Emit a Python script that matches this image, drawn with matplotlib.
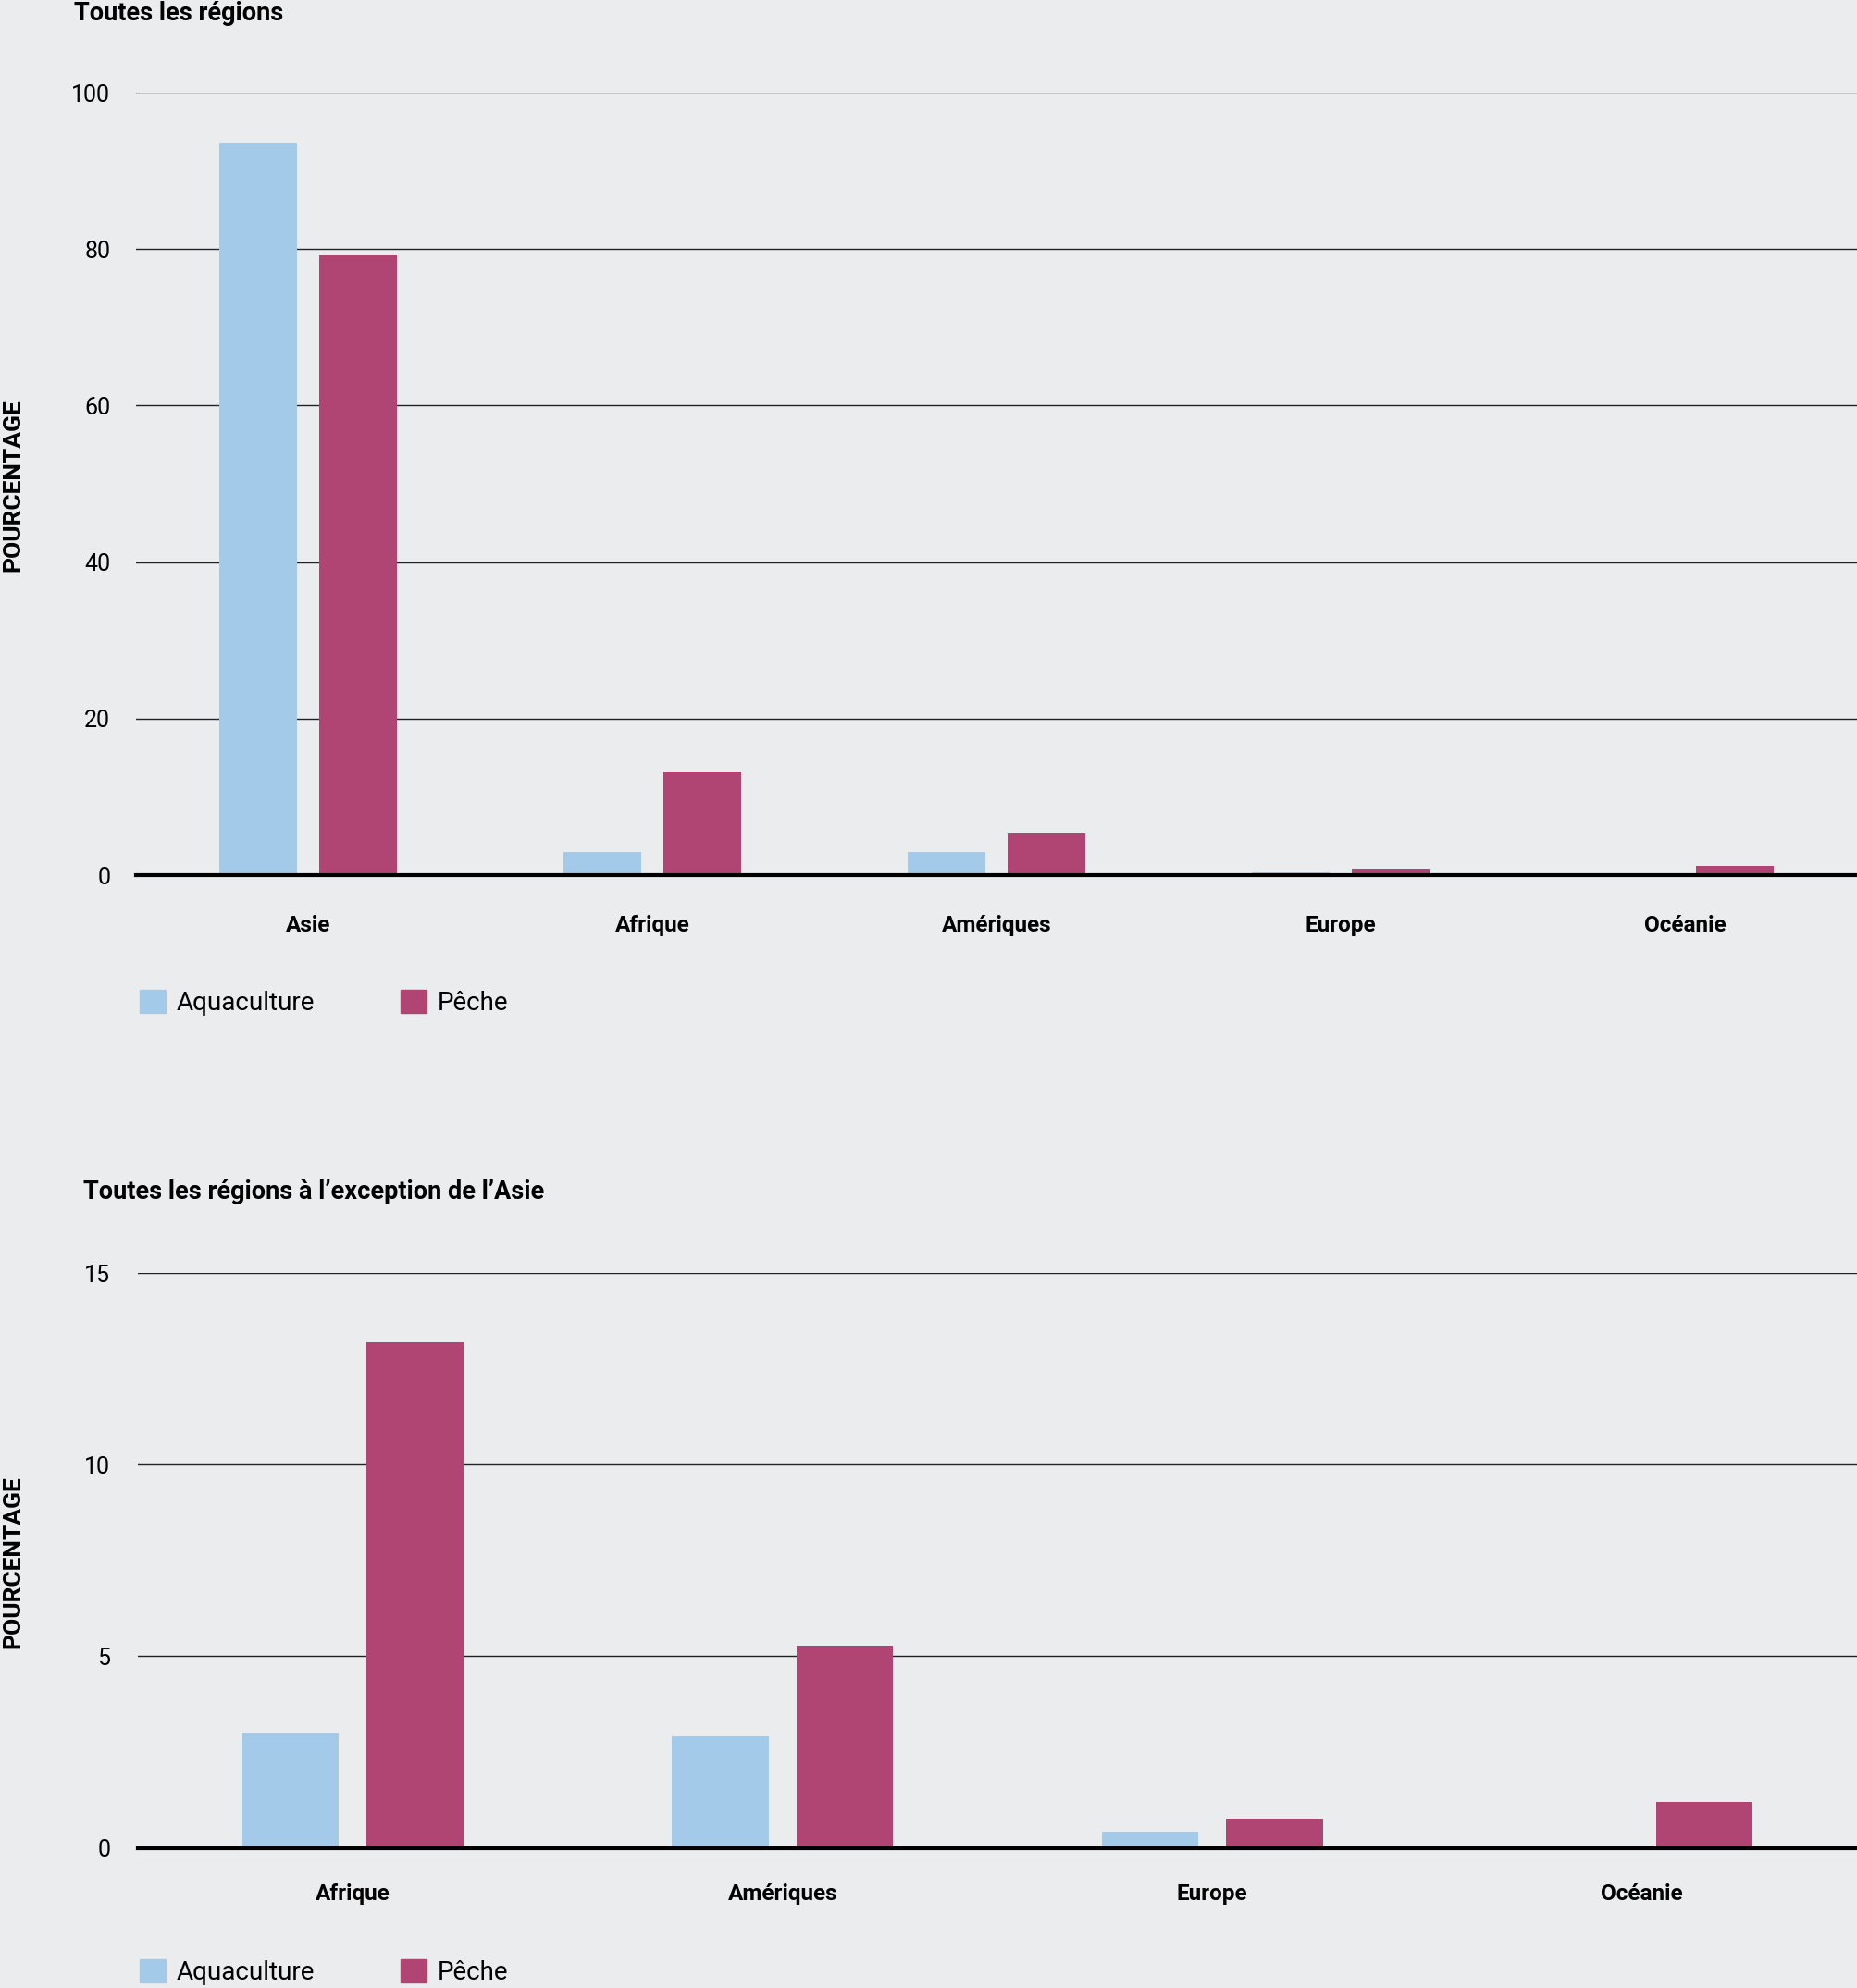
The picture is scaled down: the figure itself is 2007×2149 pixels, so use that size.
import matplotlib
matplotlib.use("Agg")
import matplotlib.pyplot as plt
from matplotlib.patches import Patch

# Data (percent)
regions_all = ["Asie", "Afrique", "Amériques", "Europe", "Océanie"]
aqua_all = [93.5, 3.0, 2.9, 0.4, 0.05]
peche_all = [79.2, 13.2, 5.3, 0.8, 1.2]

regions_ex = ["Afrique", "Amériques", "Europe", "Océanie"]
aqua_ex = [3.0, 2.9, 0.42, 0.0]
peche_ex = [13.2, 5.27, 0.76, 1.2]

yticks_all = [0, 20, 40, 60, 80, 100]
yticks_ex = [0, 5, 10, 15]

AQUA = "#a4cae9"
PECHE = "#b04473"
BG = "#ebecee"

plt.rcParams["font.family"] = ["Roboto", "DejaVu Sans"]

W, H = 2007, 2149
fig = plt.figure(figsize=(W / 100, H / 100), dpi=100, facecolor=BG)


def draw_panel(ax, cats, aqua, peche, yticks, ymax, pad_y, pad_x):
    ax.set_facecolor(BG)
    x = list(range(len(cats)))
    off = 0.145
    width = 0.225
    ax.bar([i - off for i in x], aqua, width, color=AQUA, zorder=3)
    ax.bar([i + off for i in x], peche, width, color=PECHE, zorder=3)
    ax.set_xlim(-0.5, len(cats) - 0.5)
    ax.set_ylim(0, ymax)
    ax.set_yticks(yticks)
    ax.set_xticks(x)
    ax.set_xticklabels(cats, fontsize=17.5, fontweight="bold")
    for lab in ax.get_xticklabels():
        lab.set_verticalalignment("baseline")
    ax.tick_params(axis="x", length=0, pad=pad_x)
    ax.tick_params(axis="y", length=0, pad=pad_y, labelsize=18)
    for t in yticks[1:]:
        ax.axhline(t, color="#222222", lw=1.0, zorder=1)
    ax.axhline(0, color="black", lw=3.0, zorder=4, clip_on=False)
    for s in ax.spines.values():
        s.set_visible(False)


# Top panel: all regions
ax1 = fig.add_axes([147 / W, 1 - 946 / H, 1 - 147 / W, (946 - 100) / H])
draw_panel(ax1, regions_all, aqua_all, peche_all, yticks_all, 100, 20, 44)

# Bottom panel: all regions except Asia
ax2 = fig.add_axes([149 / W, 1 - 1997.5 / H, 1 - 149 / W, (1997.5 - 1376) / H])
draw_panel(ax2, regions_ex, aqua_ex, peche_ex, yticks_ex, 15, 21.5, 41)

fig.text(80 / W, 1 - 14 / H, "Toutes les régions", fontsize=19.5, fontweight="bold",
         ha="left", va="center")
fig.text(90 / W, 1 - 1289 / H, "Toutes les régions à l\u2019exception de l\u2019Asie",
         fontsize=19.5, fontweight="bold", ha="left", va="center")

for yc in [525, 1689]:
    fig.text(14 / W, 1 - yc / H, "POURCENTAGE", rotation=90, fontsize=19,
             fontweight="bold", ha="center", va="center")

handles = [Patch(color=AQUA, label="Aquaculture"), Patch(color=PECHE, label="Pêche")]
for yc in [1084, 2132]:
    fig.legend(handles=handles, loc="center left", bbox_to_anchor=(151 / W, 1 - yc / H),
               ncol=2, frameon=False, fontsize=20, handlelength=1.0, handleheight=1.0,
               handletextpad=0.42, columnspacing=3.35, borderaxespad=0, borderpad=0)

fig.savefig("out.png", dpi=100, facecolor=BG)
